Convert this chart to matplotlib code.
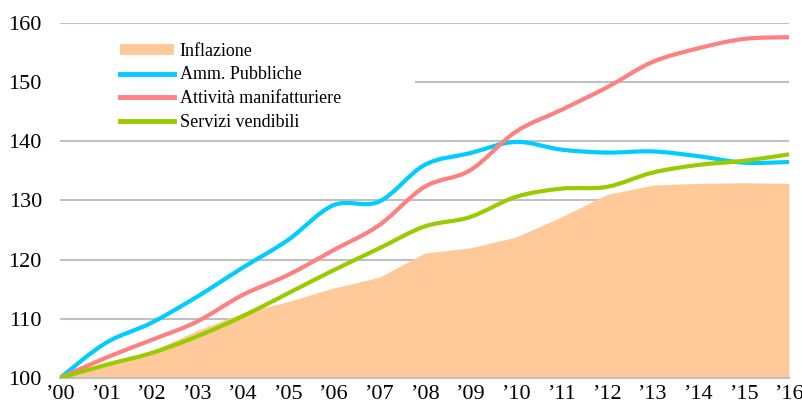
import numpy as np
import matplotlib.pyplot as plt
from matplotlib.path import Path
from matplotlib.patches import PathPatch, Patch, Rectangle
from matplotlib.lines import Line2D

# Dati (indice 2000 = 100)
anni = ["’00", "’01", "’02", "’03", "’04", "’05", "’06", "’07", "’08",
        "’09", "’10", "’11", "’12", "’13", "’14", "’15", "’16"]
inflazione = [100, 102.0, 104.5, 108.0, 111.0, 112.9, 115.2, 117.0, 121.1,
              122.0, 123.8, 127.2, 131.0, 132.6, 132.9, 133.0, 132.9]
amm_pubbliche = [100, 105.9, 109.3, 113.7, 118.6, 123.3, 129.2, 129.8, 136.0,
                 138.0, 139.9, 138.6, 138.1, 138.3, 137.5, 136.4, 136.5]
manifatturiere = [100, 103.4, 106.4, 109.5, 114.0, 117.4, 121.6, 125.8, 132.3,
                  135.1, 141.6, 145.3, 149.1, 153.4, 155.7, 157.3, 157.6]
servizi = [100, 102.2, 104.2, 107.0, 110.4, 114.3, 118.2, 121.9, 125.6,
           127.2, 130.6, 132.0, 132.3, 134.7, 136.0, 136.7, 137.8]

col_infl = "#FFC999"
col_amm = "#00CCFF"
col_man = "#FF8080"
col_serv = "#99CC00"

plt.rcParams["font.family"] = ["Liberation Serif", "DejaVu Serif"]


def curva_liscia(x, y):
    # curva smussata tipo Excel (Bezier cubica)
    x = np.asarray(x, float)
    y = np.asarray(y, float)
    px = np.concatenate([[x[0]], x, [x[-1]]])
    py = np.concatenate([[y[0]], y, [y[-1]]])
    verts = [(x[0], y[0])]
    codes = [Path.MOVETO]
    for i in range(1, len(px) - 2):
        c1 = (px[i] + (px[i + 1] - px[i - 1]) / 6, py[i] + (py[i + 1] - py[i - 1]) / 6)
        c2 = (px[i + 1] - (px[i + 2] - px[i]) / 6, py[i + 1] - (py[i + 2] - py[i]) / 6)
        verts += [c1, c2, (px[i + 1], py[i + 1])]
        codes += [Path.CURVE4] * 3
    return Path(verts, codes)


fig = plt.figure(figsize=(8.03, 4.11), dpi=100)
ax = fig.add_axes([60 / 803, 33 / 411, 729 / 803, 355 / 411])

x = np.arange(len(anni))
ax.fill_between(x, 100, inflazione, color=col_infl, lw=0, zorder=2)

for serie, col in [(amm_pubbliche, col_amm), (manifatturiere, col_man), (servizi, col_serv)]:
    ax.add_patch(PathPatch(curva_liscia(x, serie), fill=False, edgecolor=col,
                           lw=3, capstyle="round", joinstyle="round", zorder=4))

ax.set_xlim(0, 16)
ax.set_ylim(100, 160)
ax.set_yticks(range(100, 161, 10))
ax.set_xticks(x)
ax.set_xticklabels(anni)
ax.yaxis.grid(True, color="#C0C0C0", lw=1.5, zorder=0)
ax.set_axisbelow(True)
for s in ["top", "right", "left"]:
    ax.spines[s].set_visible(False)
ax.spines["bottom"].set_color("#C0C0C0")
ax.spines["bottom"].set_linewidth(1.5)
ax.tick_params(axis="both", length=0, labelsize=16)
ax.tick_params(axis="y", pad=13)
ax.tick_params(axis="x", pad=5)

# sfondo bianco del riquadro legenda (copre la griglia a 150)
ax.add_patch(Rectangle((0, 0.72), 355 / 729, 0.25, transform=ax.transAxes,
                       facecolor="white", edgecolor="none", zorder=1))

maniglie = [Patch(facecolor=col_infl, edgecolor="none"),
            Line2D([], [], color=col_amm, lw=3.5),
            Line2D([], [], color=col_man, lw=3.5),
            Line2D([], [], color=col_serv, lw=3.5)]
etichette = ["Inflazione", "Amm. Pubbliche", "Attività manifatturiere", "Servizi vendibili"]
leg = ax.legend(maniglie, etichette, loc="upper left", bbox_to_anchor=(0.075, 0.96),
                fontsize=13, frameon=False, handlelength=3.0, handleheight=0.55,
                handletextpad=0.3, labelspacing=0.38, borderpad=0.3,
                borderaxespad=0)
leg.set_zorder(5)

fig.savefig("out.png", dpi=100)
